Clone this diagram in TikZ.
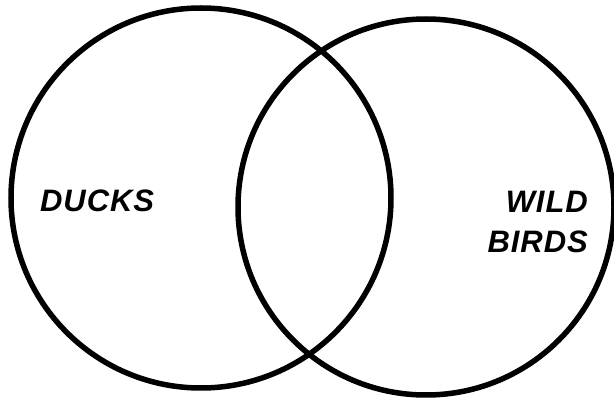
\documentclass[tikz,border=0pt]{standalone}
\usepackage{fontspec}
\setmainfont{Liberation Sans}
\begin{document}
\begin{tikzpicture}[x=1pt,y=-1pt,
  setcircle/.style={circle, draw=black, line width=5.5pt, inner sep=0pt},
  setlabel/.style={font=\fontsize{31}{40}\selectfont\bfseries\itshape\addfontfeature{LetterSpace=3}, inner sep=0pt, align=right}]
\useasboundingbox (0,0) rectangle (614,398);
\node[setcircle, minimum size=380pt] (ducks) at (201,198) {};
\node[setcircle, minimum size=376pt] (wild) at (426,207) {};
\node[setlabel, anchor=west] (ducklabel) at (40,201) {DUCKS};
\node[setlabel, anchor=east] (wildlabel) at (588,222) {WILD\\BIRDS};
\end{tikzpicture}
\end{document}
